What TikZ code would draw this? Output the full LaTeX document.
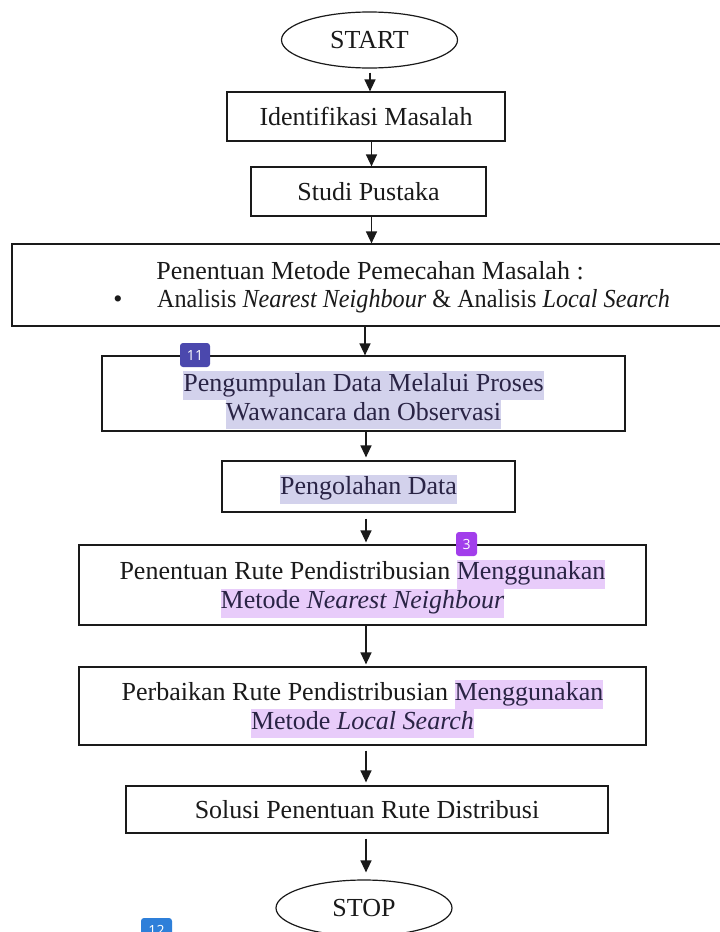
\documentclass[tikz,border=0pt]{standalone}
\usepackage{fontspec}
\setmainfont{Liberation Serif}
\newfontfamily\badgefont{Open Sans}
\usetikzlibrary{arrows.meta,shapes.geometric}
\definecolor{hlA}{HTML}{D3D2EC}
\definecolor{hlB}{HTML}{E8CCFA}
\definecolor{bdA}{HTML}{4B48AD}
\definecolor{bdB}{HTML}{A23EEB}
\definecolor{bdC}{HTML}{2E7FD9}
\definecolor{ink}{HTML}{1A1A1A}
\definecolor{hlink}{HTML}{2A2445}
\newcommand\hlA[1]{{\setlength\fboxsep{0pt}\colorbox{hlA}{\color{hlink}\strut #1}}}
\newcommand\hlB[1]{{\setlength\fboxsep{0pt}\colorbox{hlB}{\color{hlink}\strut #1}}}
\begin{document}
\begin{tikzpicture}[x=1pt,y=-1pt,
  txt/.style={font=\fontsize{26}{29}\selectfont, text=ink, align=center},
  box/.style={draw=ink, line width=1.2pt, rectangle, inner sep=0pt},
  term/.style={txt, draw=ink, line width=1.2pt, ellipse, inner sep=0pt,
    minimum width=176pt, minimum height=56pt},
  arr/.style={draw=ink, line width=1.3pt, -{Triangle[width=11pt,length=12pt]}},
  badge/.style={fill=#1, rounded corners=3pt, inner sep=0pt, minimum height=24pt,
    text=white, font=\badgefont\fontsize{14}{14}\selectfont}]
\useasboundingbox (0,0) rectangle (720,932);
\fill[white] (0,0) rectangle (720,932);
\clip (0,0) rectangle (720,932);

\node[term] (start) at (369.5,40) {START};
\node[box, txt, minimum width=278pt, minimum height=49pt] (ident) at (366,116.5) {Identifikasi Masalah};
\node[box, txt, minimum width=235pt, minimum height=49pt] (studi) at (368.5,191.5) {Studi Pustaka};
\node[box, minimum width=718pt, minimum height=82pt] (metode) at (371,285) {};
\node[txt, anchor=base] (m1) at (370,279) {Penentuan Metode Pemecahan Masalah :};
\node[txt, anchor=base] (mb) at (118,307) {\textbullet};
\node[txt, anchor=base west, inner sep=0pt] (m2) at (157,307)
  {\scalebox{0.93}[1]{Analisis \textit{Nearest Neighbour} \& Analisis \textit{Local Search}}};

\node[box, minimum width=523pt, minimum height=75pt] (collect) at (363.5,393.5) {};
\node[txt] (collect-t) at (363.5,400)
  {\hlA{Pengumpulan Data Melalui Proses}\\\hlA{Wawancara dan Observasi}};
\node[box, minimum width=293pt, minimum height=51pt] (olah) at (368.5,486.5) {};
\node[txt] (olah-t) at (368.5,489) {\hlA{Pengolahan Data}};
\node[box, minimum width=567pt, minimum height=80pt] (rute) at (362.5,585) {};
\node[txt] (rute-t) at (362.5,588.5)
  {Penentuan Rute Pendistribusian \hlB{Menggunakan}\\\hlB{Metode \textit{Nearest Neighbour}}};
\node[box, minimum width=567pt, minimum height=78pt] (perb) at (362.5,706) {};
\node[txt] (perb-t) at (362.5,709)
  {Perbaikan Rute Pendistribusian \hlB{Menggunakan}\\\hlB{Metode \textit{Local Search}}};
\node[box, txt, minimum width=482pt, minimum height=47pt] (solusi) at (367,809.5) {Solusi Penentuan Rute Distribusi};
\node[term] (stop) at (364,908) {STOP};

\coordinate (c370) at (370,0);
\coordinate (c371) at (371.5,0);
\coordinate (c365) at (365,0);
\coordinate (c366) at (366,0);

\draw[arr, shorten <=4pt] (start.south -| c370) -- (ident.north -| c370);
\draw[arr] (ident.south -| c371) -- (studi.north -| c371);
\draw[arr] (studi.south -| c371) -- (metode.north -| c371);
\draw[arr] (metode.south -| c365) -- (collect.north -| c365);
\draw[arr, shorten >=3pt] (collect.south -| c366) -- (olah.north -| c366);
\draw[arr, shorten <=6pt, shorten >=2pt] (olah.south -| c366) -- (rute.north -| c366);
\draw[arr, shorten >=2pt] (rute.south -| c366) -- (perb.north -| c366);
\draw[arr, shorten <=5pt, shorten >=3pt] (perb.south -| c366) -- (solusi.north -| c366);
\draw[arr, shorten <=5pt, shorten >=7pt] (solusi.south -| c366) -- (stop.north -| c366);

\node[badge=bdA, minimum width=30pt] (b11) at (195,355) {11};
\node[badge=bdB, minimum width=21pt] (b3) at (466.5,544) {3};
\node[badge=bdC, minimum width=31pt] (b12) at (156.5,930) {12};
\end{tikzpicture}
\end{document}
